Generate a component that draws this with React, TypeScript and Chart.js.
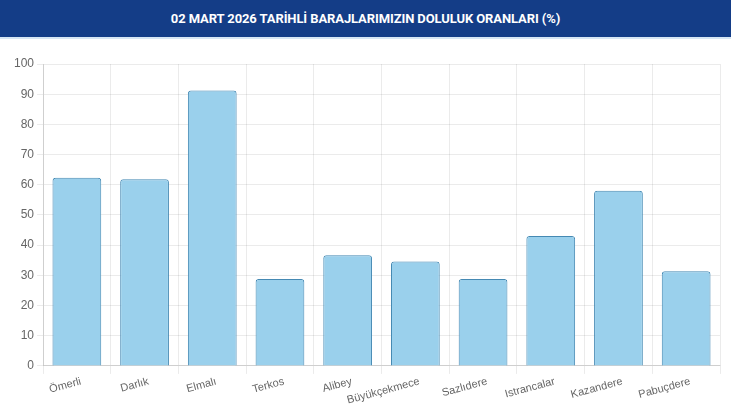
import React, { useEffect, useRef } from "react";
import { Chart, registerables } from "chart.js";

Chart.register(...registerables);

const TITLE = "02 MART 2026 TARİHLİ BARAJLARIMIZIN DOLULUK ORANLARI (%)";
const categories = ["Ömerli", "Darlık", "Elmalı", "Terkos", "Alibey", "Büyükçekmece", "Sazlıdere", "Istrancalar", "Kazandere", "Pabuçdere"];
const fillRates = [62.3, 61.8, 91.2, 28.8, 36.7, 34.6, 28.8, 43.0, 58.0, 31.4];
const yTicks = [0, 10, 20, 30, 40, 50, 60, 70, 80, 90, 100];

export default function App() {
  const ref = useRef<HTMLCanvasElement>(null);
  useEffect(() => {
    document.body.style.margin = "0";
    const chart = new Chart(ref.current!, {
      type: "bar",
      data: {
        labels: categories,
        datasets: [
          {
            data: fillRates,
            backgroundColor: "#9ad0ec",
            borderColor: "#4589b3",
            borderWidth: 1,
            borderRadius: 3,
            borderSkipped: "bottom",
          },
        ],
      },
      options: {
        animation: false,
        responsive: true,
        maintainAspectRatio: false,
        layout: { padding: { left: 11, right: 11, top: 25, bottom: 2 } },
        plugins: { legend: { display: false }, tooltip: { enabled: false } },
        scales: {
          x: {
            grid: { color: "rgba(0,0,0,0.08)", tickLength: 8 },
            ticks: {
              color: "#666",
              font: { family: "Liberation Sans", size: 11 },
              minRotation: 15,
              maxRotation: 15,
              padding: 1,
              labelOffset: 4,
            },
            border: { color: "rgba(0,0,0,0.12)" },
          },
          y: {
            min: 0,
            max: 100,
            afterBuildTicks: (axis: any) => {
              axis.ticks = yTicks.map((v) => ({ value: v }));
            },
            grid: { color: "rgba(0,0,0,0.08)", tickLength: 6 },
            ticks: { color: "#666", font: { family: "Liberation Sans", size: 12 }, padding: 3 },
            border: { color: "rgba(0,0,0,0.12)" },
          },
        },
      },
    });
    return () => chart.destroy();
  }, []);
  return (
    <div style={{ width: 731, height: 410, background: "#fff", overflow: "hidden" }}>
      <div
        style={{
          height: 37,
          background: "#143d87",
          borderBottom: "2px solid #d6e6f4",
          color: "#fff",
          fontFamily: "Roboto",
          fontWeight: 700,
          fontSize: 13,
          display: "flex",
          alignItems: "center",
          justifyContent: "center",
          letterSpacing: -0.1,
        }}
      >
        {TITLE}
      </div>
      <div style={{ position: "relative", height: 371 }}>
        <canvas ref={ref} />
      </div>
    </div>
  );
}
